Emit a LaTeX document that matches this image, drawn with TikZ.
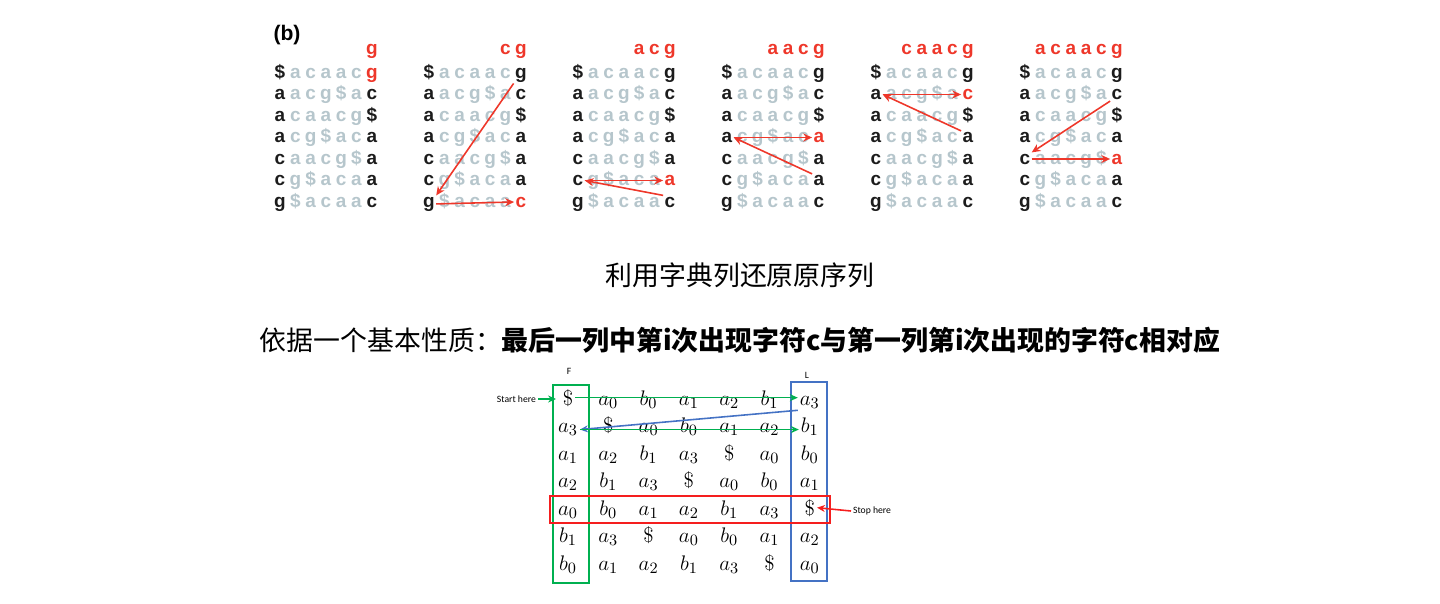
\documentclass[tikz,border=0pt]{standalone}
\usepackage{fontspec}
\usepackage{tikz}
\usetikzlibrary{
arrows.meta,
positioning,
calc
}
\newfontfamily\cjkfont{Noto Sans CJK SC}
\newfontfamily\helvfont{Liberation Sans}
\newfontfamily\califont{Carlito}
\definecolor{bwtred}{RGB}{238,55,42}
\definecolor{bwtgray}{RGB}{182,198,204}
\definecolor{bwtdark}{RGB}{28,28,28}
\definecolor{lfgreen}{RGB}{0,176,80}
\definecolor{lfblue}{RGB}{68,114,196}
\definecolor{lfred}{RGB}{245,30,30}

\begin{document}
\begin{tikzpicture}[
  x=0.02cm, y=-0.02cm,
  letter/.style={
    anchor=base, inner sep=0.6pt,
    font=\helvfont\bfseries\fontsize{10.8}{12}\selectfont
  },
  mcell/.style={
    anchor=base, inner sep=1pt,
    font=\fontsize{13}{15}\selectfont
  },
  lfnote/.style={
    inner sep=1pt, font=\califont\fontsize{5.5}{7}\selectfont
  },
  redarrow/.style={
    bwtred, line width=0.9pt, -{Stealth[length=5pt, width=4.5pt]}
  },
  lfarrow/.style={
    line width=0.9pt, -{Stealth[length=4.5pt, width=4pt]}
  },
  cjkline/.style={
    font=\cjkfont\fontsize{15.3}{18}\selectfont
  }
]
\useasboundingbox (0,0) rectangle (1440,603);

%% ============================================================
%%  PANEL (b) -- SIX ROTATION TABLES
%% ============================================================
\node[font=\helvfont\bfseries\fontsize{12}{14}\selectfont] (panel) at (287,35) {(b)};

\foreach \k/\hi in {0/0, 1/6, 2/5, 3/3, 4/1, 5/4}{
  %% rows of the sorted rotations
  \foreach \row/\ta/\tb/\tc/\td/\te/\tf/\tg in {
      0/\$/a/c/a/a/c/g,
      1/a/a/c/g/\$/a/c,
      2/a/c/a/a/c/g/\$,
      3/a/c/g/\$/a/c/a,
      4/c/a/a/c/g/\$/a,
      5/c/g/\$/a/c/a/a,
      6/g/\$/a/c/a/a/c}{
    \foreach \col/\s in {0/\ta, 1/\tb, 2/\tc, 3/\td, 4/\te, 5/\tf, 6/\tg}{
      \def\tcol{bwtgray}
      \ifnum\col=0 \def\tcol{bwtdark}\fi
      \ifnum\col=6
        \ifnum\row=\hi \def\tcol{bwtred}\else\def\tcol{bwtdark}\fi
      \fi
      \node[letter, text=\tcol] (b\k-\row-\col)
        at (280+149*\k+15.3*\col, 78+21.5*\row) {\s};
    }
  }
  %% recovered text on top
  \foreach \j/\ch in {1/a, 2/c, 3/a, 4/a, 5/c, 6/g}{
    \ifnum\j>\numexpr5-\k\relax
      \node[letter, text=bwtred] (h\k-\j)
        at (280+149*\k+15.3*\j, 54) {\ch};
    \fi
  }
}

%% LF steps
\draw[redarrow] (b1-0-6.south west) -- (b1-6-0.north east);
\draw[redarrow] (b1-6-0.east) -- (b1-6-6.west);

\draw[redarrow] (b2-6-6.north west) -- (b2-5-0.east);
\draw[redarrow] (b2-5-0.east) -- (b2-5-6.west);

\draw[redarrow] (b3-5-6.north west) -- (b3-3-0.east);
\draw[redarrow] (b3-3-0.east) -- (b3-3-6.west);

\draw[redarrow] (b4-3-6.north west) -- (b4-1-0.east);
\draw[redarrow] (b4-1-0.east) -- (b4-1-6.west);

\draw[redarrow] (b5-1-6.south west) -- (b5-4-0.north east);
\draw[redarrow] (b5-4-0.east) -- (b5-4-6.west);

%% ============================================================
%%  CAPTION LINES
%% ============================================================
\node[cjkline] (title) at (740,275) {利用字典列还原原序列};
\node[cjkline] (rule) at (740,340)
  {依据一个基本性质：{\bfseries 最后一列中第i次出现字符c与第一列第i次出现的字符c相对应}};

%% ============================================================
%%  ROTATION MATRIX WITH F / L COLUMNS
%% ============================================================
\foreach \row/\ma/\mb/\mc/\md/\me/\mf/\mg in {
    0/\$/a_0/b_0/a_1/a_2/b_1/a_3,
    1/a_3/\$/a_0/b_0/a_1/a_2/b_1,
    2/a_1/a_2/b_1/a_3/\$/a_0/b_0,
    3/a_2/b_1/a_3/\$/a_0/b_0/a_1,
    4/a_0/b_0/a_1/a_2/b_1/a_3/\$,
    5/b_1/a_3/\$/a_0/b_0/a_1/a_2,
    6/b_0/a_1/a_2/b_1/a_3/\$/a_0}{
  \foreach \col/\s in {0/\ma, 1/\mb, 2/\mc, 3/\md, 4/\me, 5/\mf, 6/\mg}
    \node[mcell] (m-\row-\col) at (568+40.3*\col, 405+27.5*\row) {$\s$};
}

%% column frames and stop row
\draw[lfgreen, line width=0.8pt] (553,385) rectangle (589,583);
\draw[lfblue, line width=0.8pt] (791,382) rectangle (827,581);
\draw[lfred, line width=0.8pt] (550,496) rectangle (830,523);

\node[lfnote] (flabel) at (569,371) {F};
\node[lfnote] (llabel) at (807,375) {L};

%% start / stop markers
\node[lfnote, anchor=east] (start) at (538,399) {Start here};
\node[lfnote, anchor=west] (stop) at (851,511) {Stop here};
\draw[lfarrow, lfgreen] (start.east) -- ++(18,0) coordinate (starttip);
\draw[lfarrow, lfred] (stop.west) -- (m-4-6.east);

%% walk through the matrix
\draw[lfarrow, lfgreen] (m-0-0.east) -- (m-0-0.east -| m-0-6.west);
\draw[lfarrow, lfblue] (m-0-6.south west) -- (m-1-0.east);
\draw[lfarrow, lfgreen] (m-1-0.east) -- (m-1-0.east -| m-1-6.west);

\end{tikzpicture}
\end{document}
